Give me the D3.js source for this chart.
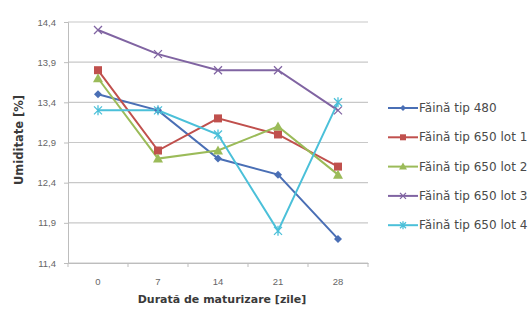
<!DOCTYPE html>
<html>
<head>
<meta charset="utf-8">
<script src="https://cdn.jsdelivr.net/npm/d3@7"></script>
<style>
  body { margin: 0; background: #fff; }
  svg { font-family: "DejaVu Sans", Verdana, sans-serif; }
</style>
</head>
<body>
<div id="chart"></div>
<script>
/* Umiditate vs durata de maturizare — line chart with markers */

var days = ['0', '7', '14', '21', '28'];
var seriesNames = ['Făină tip 480', 'Făină tip 650 lot 1', 'Făină tip 650 lot 2',
  'Făină tip 650 lot 3', 'Făină tip 650 lot 4'];
var v480 = [13.5, 13.3, 12.7, 12.5, 11.7];
var vLot1 = [13.8, 12.8, 13.2, 13.0, 12.6];
var vLot2 = [13.7, 12.7, 12.8, 13.1, 12.5];
var vLot3 = [14.3, 14.0, 13.8, 13.8, 13.3];
var vLot4 = [13.3, 13.3, 13.0, 11.8, 13.4];
var yTicks = [11.4, 11.9, 12.4, 12.9, 13.4, 13.9, 14.4];

var COLORS = ['#4a6fb5', '#c0504d', '#9bbb59', '#8064a2', '#4bc0d9'];
var MARKERS = ['diamond', 'square', 'triangle', 'x', 'star'];

var W = 531, H = 313;
var plot = {left: 68, right: 368, top: 22, bottom: 263};

var svg = d3.select('#chart').append('svg')
  .attr('width', W).attr('height', H);

var x = d3.scaleBand().domain(days).range([plot.left, plot.right]);
var y = d3.scaleLinear().domain([11.4, 14.4]).range([plot.bottom, plot.top]);

/* gridlines */
svg.append('g').selectAll('line').data(yTicks).enter().append('line')
  .attr('x1', plot.left).attr('x2', plot.right)
  .attr('y1', function(d) { return y(d); }).attr('y2', function(d) { return y(d); })
  .attr('stroke', '#c8c8c8').attr('stroke-width', 1.2);

/* y axis */
var yAxis = svg.append('g').attr('transform', 'translate(' + plot.left + ',0)')
  .call(d3.axisLeft(y).tickValues(yTicks).tickSize(4).tickPadding(8)
    .tickFormat(function(d) { return d3.format('.1f')(d).replace('.', ','); }));
yAxis.select('.domain').attr('stroke', '#bdbdbd');
yAxis.selectAll('line').attr('stroke', '#bdbdbd');
yAxis.selectAll('text').attr('fill', '#666').style('font-size', '9.5px');

/* x axis */
var xAxis = svg.append('g').attr('transform', 'translate(0,' + plot.bottom + ')')
  .call(d3.axisBottom(x).tickSize(0).tickPadding(15));
xAxis.select('.domain').attr('stroke', '#bdbdbd');
xAxis.selectAll('text').attr('fill', '#666').style('font-size', '9.5px');
/* tick marks between categories */
xAxis.append('g').selectAll('line').data(d3.range(days.length + 1)).enter().append('line')
  .attr('x1', function(i) { return plot.left + i * x.bandwidth(); })
  .attr('x2', function(i) { return plot.left + i * x.bandwidth(); })
  .attr('y1', 0).attr('y2', 4)
  .attr('stroke', '#bdbdbd');

/* axis titles */
svg.append('text')
  .attr('x', 222).attr('y', 303)
  .attr('text-anchor', 'middle')
  .style('font-size', '11px').style('font-weight', 'bold').attr('fill', '#3a3a3a')
  .text('Durată de maturizare [zile]');

svg.append('text')
  .attr('transform', 'translate(23,140) rotate(-90)')
  .attr('text-anchor', 'middle')
  .style('font-size', '11.5px').style('font-weight', 'bold').attr('fill', '#3a3a3a')
  .text('Umiditate [%]');

function drawMarker(g, kind, color, size) {
  var s = size;
  if (kind === 'diamond') {
    g.append('path').attr('d', 'M0,' + (-s) + 'L' + s + ',0L0,' + s + 'L' + (-s) + ',0Z')
      .attr('fill', color);
  } else if (kind === 'square') {
    g.append('rect').attr('x', -s).attr('y', -s).attr('width', 2 * s).attr('height', 2 * s)
      .attr('fill', color);
  } else if (kind === 'triangle') {
    g.append('path').attr('d', 'M0,' + (-s - 1) + 'L' + (s + 1) + ',' + s + 'L' + (-s - 1) + ',' + s + 'Z')
      .attr('fill', color);
  } else if (kind === 'x') {
    g.append('path').attr('d', 'M' + (-s) + ',' + (-s) + 'L' + s + ',' + s + 'M' + (-s) + ',' + s + 'L' + s + ',' + (-s))
      .attr('stroke', color).attr('stroke-width', 1.3).attr('fill', 'none');
  } else if (kind === 'star') {
    g.append('path').attr('d', 'M' + (-s) + ',' + (-s) + 'L' + s + ',' + s + 'M' + (-s) + ',' + s + 'L' + s + ',' + (-s)
      + 'M0,' + (-s - 1) + 'L0,' + (s + 1))
      .attr('stroke', color).attr('stroke-width', 1.3).attr('fill', 'none');
  }
}

var allSeries = [v480, vLot1, vLot2, vLot3, vLot4];
var line = d3.line()
  .x(function(d, i) { return x(days[i]) + x.bandwidth() / 2; })
  .y(function(d) { return y(d); });

allSeries.forEach(function(vals, si) {
  svg.append('path').datum(vals)
    .attr('d', line)
    .attr('fill', 'none')
    .attr('stroke', COLORS[si])
    .attr('stroke-width', 2);
});
allSeries.forEach(function(vals, si) {
  vals.forEach(function(v, i) {
    var g = svg.append('g')
      .attr('transform', 'translate(' + (x(days[i]) + x.bandwidth() / 2) + ',' + y(v) + ')');
    drawMarker(g, MARKERS[si], COLORS[si], 4);
  });
});

/* legend */
var legend = svg.append('g');
seriesNames.forEach(function(name, i) {
  var ly = 108 + i * 29.3;
  legend.append('line')
    .attr('x1', 388).attr('x2', 418).attr('y1', ly).attr('y2', ly)
    .attr('stroke', COLORS[i]).attr('stroke-width', 2);
  var g = legend.append('g').attr('transform', 'translate(403,' + ly + ')');
  drawMarker(g, MARKERS[i], COLORS[i], 3);
  legend.append('text')
    .attr('x', 419).attr('y', ly + 4)
    .style('font-size', '12px').attr('fill', '#4a4a4a')
    .text(name);
});
</script>
</body>
</html>
